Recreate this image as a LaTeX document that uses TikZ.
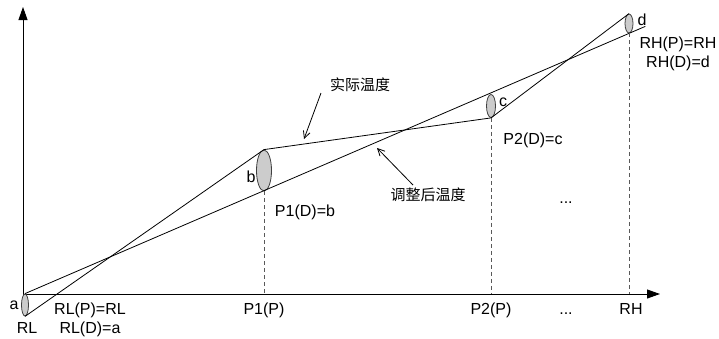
\documentclass[tikz,border=0pt]{standalone}
\usepackage{fontspec}
\setmainfont{Liberation Sans}
\newfontfamily\cjk{Noto Sans CJK SC}
\usetikzlibrary{arrows.meta,shapes.geometric,calc}

\begin{document}
\begin{tikzpicture}[x=1pt,y=-1pt,
  lbl/.style={font=\fontsize{16}{19}\selectfont, inner sep=0pt, anchor=base},
  cjklbl/.style={font=\cjk\fontsize{15}{18}\selectfont, inner sep=0pt},
  spread/.style={draw=black!75, fill=black!20, ellipse, inner sep=0pt, line width=0.8pt},
  axis/.style={line width=0.9pt, -{Triangle[length=13pt,width=9pt]}},
  curve/.style={line width=0.8pt},
  guide/.style={draw=black!65, line width=0.8pt, dash pattern=on 4pt off 3pt},
  pointer/.style={line width=0.8pt, -{Straight Barb[length=7pt,width=7pt]}}
]
\useasboundingbox (0,0) rectangle (719,338);

% axes
\coordinate (O) at (23,294);
\coordinate (ytop) at (23,7);
\coordinate (xend) at (660,294);
\draw[axis] (O) -- (ytop);
\draw[axis] (O) -- (xend);

% temperature ranges at the calibration points
\node[spread, minimum width=7pt,  minimum height=22pt] (ea) at (25,305) {};
\node[spread, minimum width=15pt, minimum height=41pt] (eb) at (264,170.5) {};
\node[spread, minimum width=9pt,  minimum height=23pt] (ec) at (491,106) {};
\node[spread, minimum width=8pt,  minimum height=19pt] (ed) at (629,23.5) {};

% measured temperature (polyline) and adjusted temperature (straight line)
\draw[curve] (ea.south) -- (eb.north) -- (ec.south) -- (ed.north);
\coordinate (adjEnd) at ($(ea.north)!1.027!(ed.south)$);
\draw[curve] (ea.north) -- (adjEnd);

% drop lines to the x axis
\draw[guide] (eb.south) -- (eb.south |- O);
\draw[guide] (ec.south) -- (ec.south |- O);
\draw[guide] (ed.south) -- (ed.south |- O);

% point labels
\node[lbl] (la) at (14,309) {a};
\node[lbl] (lb) at (251,182) {b};
\node[lbl] (lc) at (503,106.5) {c};
\node[lbl] (ld) at (642,25) {d};

\node[lbl] (rlp) at (90,314) {RL(P)=RL};
\node[lbl] (rld) at (90,333) {RL(D)=a};
\node[lbl] (p1d) at (305,216) {P1(D)=b};
\node[lbl] (p2d) at (533,144) {P2(D)=c};
\node[lbl] (rhp) at (678,48) {RH(P)=RH};
\node[lbl] (rhd) at (678,67) {RH(D)=d};
\node[lbl] (dotsmid) at (566,203) {...};

% axis tick labels
\node[lbl] (xrl) at (27,333) {RL};
\node[lbl] (xp1) at (264,314) {P1(P)};
\node[lbl] (xp2) at (491,314) {P2(P)};
\node[lbl] (xdots) at (566,314) {...};
\node[lbl] (xrh) at (631,314) {RH};

% curve captions
\node[cjklbl] (act) at (360,85) {实际温度};
\node[cjklbl] (adj) at (428,195) {调整后温度};
\coordinate (actTail) at (321,93);
\coordinate (actHead) at (304,139);
\coordinate (adjTail) at (413,185);
\coordinate (adjHead) at (377,148);
\draw[pointer] (actTail) -- (actHead);
\draw[pointer] (adjTail) -- (adjHead);
\end{tikzpicture}
\end{document}
